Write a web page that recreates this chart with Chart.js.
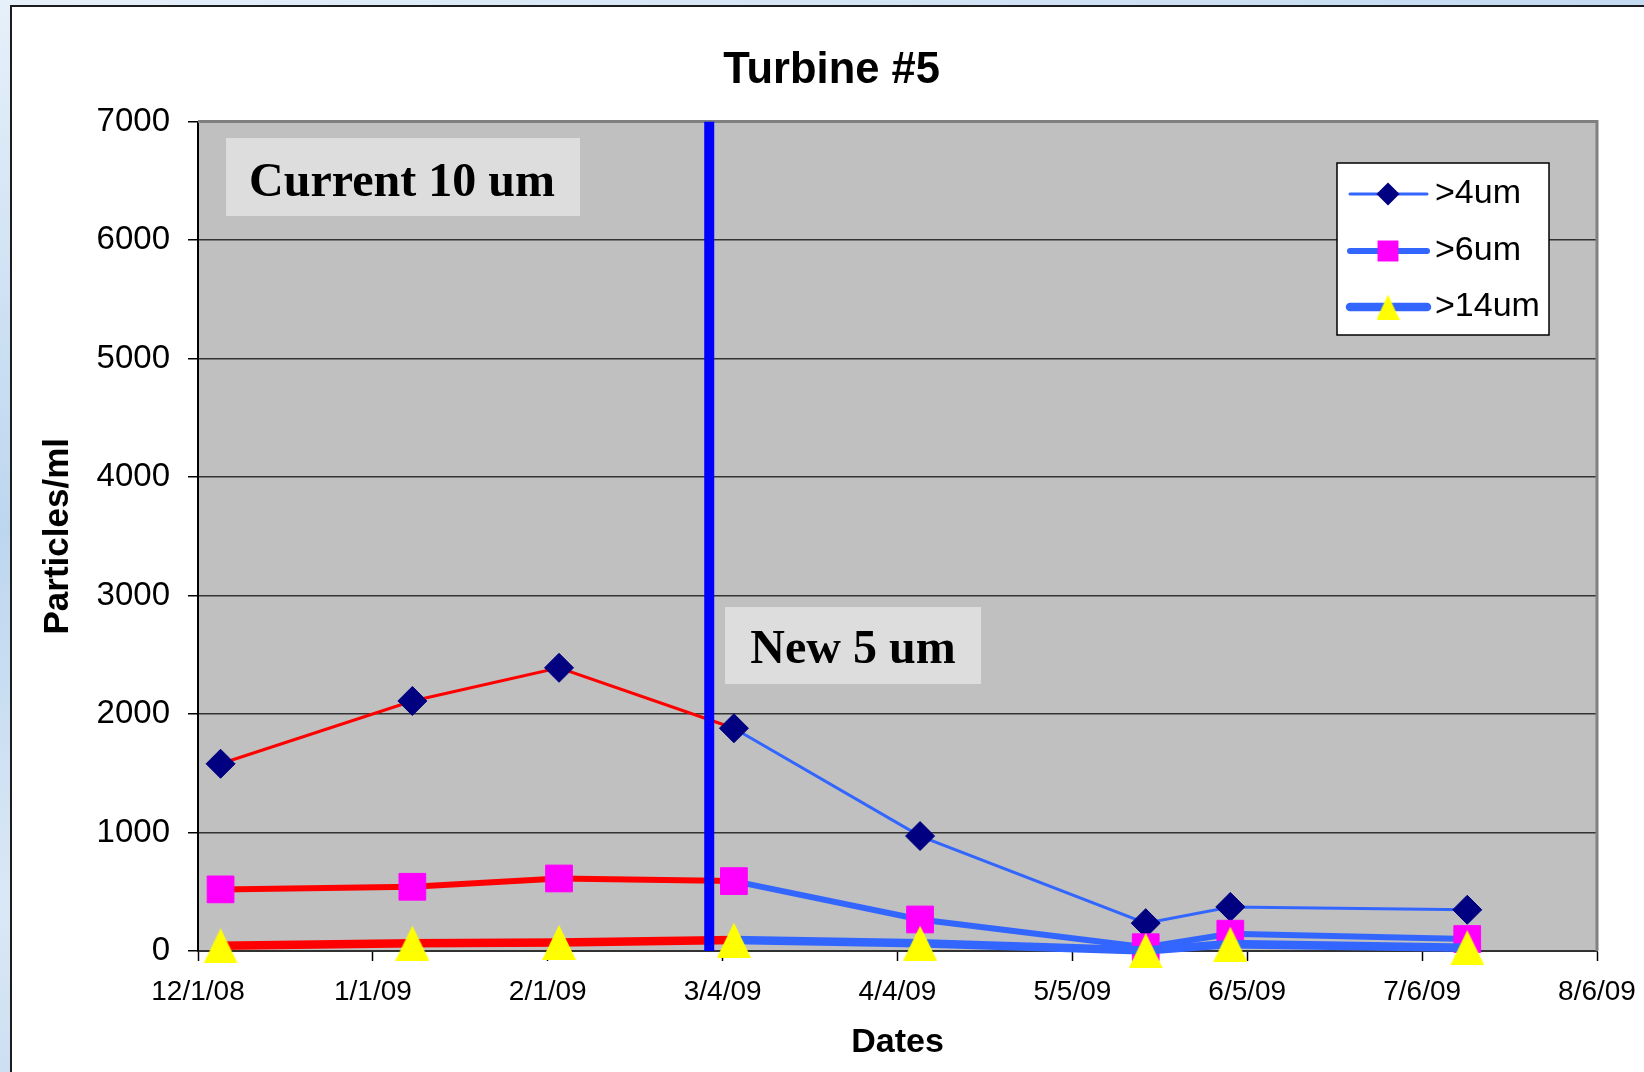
<!DOCTYPE html>
<html>
<head>
<meta charset="utf-8">
<title>Turbine #5</title>
<script src="https://cdn.jsdelivr.net/npm/chart.js@4.4.1/dist/chart.umd.min.js"></script>
<style>
  html, body { margin: 0; padding: 0; width: 1644px; height: 1072px; overflow: hidden; }
  body { position: relative; background: linear-gradient(165deg, #e6f0fa 0%, #bdd6ef 35%, #dae8f6 60%, #a8c6e6 100%); }
  #sheet { position: absolute; left: 10px; top: 5px; width: 1700px; height: 1100px; background: #ffffff;
           border-left: 2px solid #1c1c1c; border-top: 2px solid #1c1c1c; }
  #chart { position: absolute; left: 0; top: 0; }
</style>
</head>
<body>
<div id="sheet"></div>
<canvas id="chart" width="1644" height="1072"></canvas>
<script>
// Particle counts (particles per ml) measured on turbine #5
const sampleDates = ['2008-12-05', '2009-01-08', '2009-02-03', '2009-03-06', '2009-04-08', '2009-05-18', '2009-06-02', '2009-07-14'];
const over4um  = [1580, 2110, 2390, 1880, 970, 235, 372, 348];
const over6um  = [520, 542, 612, 590, 266, 32, 146, 101];
const over14um = [44, 66, 72, 92, 66, 4, 58, 28];
const seriesNames = ['>4um', '>6um', '>14um'];

// Date the 10 um filter was replaced by the 5 um one
const filterChangeDate = '2009-03-01T15:00:00Z';

// Date axis: starts 12/1/08, one tick every 31 days
const axisStartDate = '2008-12-01';
const tickStepDays = 31;
const xTickLabels = ['12/1/08', '1/1/09', '2/1/09', '3/4/09', '4/4/09', '5/5/09', '6/5/09', '7/6/09', '8/6/09'];
const yMin = 0, yMax = 7000, yStep = 1000;

const DAY = 86400000;
const dayOf = s => (Date.parse(s) - Date.parse(axisStartDate)) / DAY;
const sampleDays = sampleDates.map(dayOf);
const changeDay = dayOf(filterChangeDate);
const toPoints = vals => vals.map((v, i) => ({ x: sampleDays[i], y: v }));

const SANS = "'Liberation Sans', Arial, sans-serif";
const SERIF = "'Liberation Serif', 'Times New Roman', serif";
const RED = '#FF0000';
const BLUE = '#3366FF';

// segments that start before the filter change are drawn red
const segColor = ctx => (sampleDays[ctx.p0DataIndex] < changeDay ? RED : BLUE);

function triangleMarker(w, h, color) {
  const c = document.createElement('canvas');
  c.width = w; c.height = h;
  const g = c.getContext('2d');
  g.fillStyle = color;
  g.beginPath();
  g.moveTo(w / 2, 0);
  g.lineTo(w, h);
  g.lineTo(0, h);
  g.closePath();
  g.fill();
  return c;
}

const markers = [
  { style: 'rectRot', radius: 14.5, color: '#000080', legendRadius: 11.5 },
  { style: 'rect', radius: 18.9, color: '#FF00FF', legendRadius: 14.8 },
  { style: triangleMarker(34, 35, '#FFFF00'), radius: 18, color: '#FFFF00', legendStyle: triangleMarker(23, 25, '#FFFF00') }
];
const lineWidths = [3, 6, 8.5];

function seriesDataset(i, values, order) {
  const m = markers[i];
  return {
    label: seriesNames[i],
    data: toPoints(values),
    borderColor: BLUE,
    borderWidth: lineWidths[i],
    segment: { borderColor: segColor },
    pointStyle: m.style,
    pointRadius: m.radius,
    pointHoverRadius: m.radius,
    pointBackgroundColor: m.color,
    pointBorderColor: m.color,
    pointBorderWidth: 1,
    tension: 0,
    clip: false,
    order: order
  };
}

// grey plot background and the grey top/right frame of the plot
const plotFrame = {
  id: 'plotFrame',
  beforeDraw(chart) {
    const { ctx, chartArea: a } = chart;
    ctx.save();
    ctx.fillStyle = '#C0C0C0';
    ctx.fillRect(a.left, a.top, a.right - a.left, a.bottom - a.top);
    ctx.restore();
  },
  beforeDatasetsDraw(chart) {
    const { ctx, chartArea: a } = chart;
    ctx.save();
    ctx.strokeStyle = '#808080';
    ctx.lineWidth = 3;
    ctx.beginPath();
    ctx.moveTo(a.left, a.top);
    ctx.lineTo(a.right, a.top);
    ctx.lineTo(a.right, a.bottom);
    ctx.stroke();
    ctx.restore();
  }
};

// filter labels on the plot
const filterNotes = {
  id: 'filterNotes',
  afterDatasetsDraw(chart) {
    const { ctx } = chart;
    const notes = [
      { text: 'Current 10 um', box: [226, 138, 354, 78], cx: 402, base: 196 },
      { text: 'New 5 um', box: [725, 607, 256, 77], cx: 853, base: 663 }
    ];
    ctx.save();
    for (const n of notes) {
      ctx.fillStyle = '#DDDDDD';
      ctx.fillRect(n.box[0], n.box[1], n.box[2], n.box[3]);
      ctx.fillStyle = '#000';
      ctx.font = 'bold 48px ' + SERIF;
      ctx.textAlign = 'center';
      ctx.textBaseline = 'alphabetic';
      ctx.fillText(n.text, n.cx, n.base);
    }
    ctx.restore();
  }
};

// legend box in the upper right of the plot
const seriesLegend = {
  id: 'seriesLegend',
  afterDraw(chart) {
    const { ctx } = chart;
    const box = { x: 1337, y: 163, w: 212, h: 172 };
    const rows = [194, 251, 307];
    ctx.save();
    ctx.fillStyle = '#FFFFFF';
    ctx.fillRect(box.x, box.y, box.w, box.h);
    ctx.strokeStyle = '#000';
    ctx.lineWidth = 1.5;
    ctx.strokeRect(box.x, box.y, box.w, box.h);
    seriesNames.forEach((name, i) => {
      const y = rows[i];
      const m = markers[i];
      ctx.strokeStyle = BLUE;
      ctx.lineWidth = lineWidths[i];
      ctx.lineCap = 'round';
      ctx.beginPath();
      ctx.moveTo(1350, y);
      ctx.lineTo(1427, y);
      ctx.stroke();
      const mx = 1388;
      ctx.fillStyle = m.color;
      if (m.style === 'rectRot') {
        const r = m.legendRadius;
        ctx.beginPath();
        ctx.moveTo(mx - r, y); ctx.lineTo(mx, y - r); ctx.lineTo(mx + r, y); ctx.lineTo(mx, y + r);
        ctx.closePath();
        ctx.fill();
      } else if (m.style === 'rect') {
        const s = m.legendRadius * Math.SQRT1_2;
        ctx.fillRect(mx - s, y - s, 2 * s, 2 * s);
      } else {
        const img = m.legendStyle;
        ctx.drawImage(img, mx - img.width / 2, y - img.height / 2);
      }
      ctx.fillStyle = '#000';
      ctx.font = '34px ' + SANS;
      ctx.textAlign = 'left';
      ctx.textBaseline = 'middle';
      ctx.fillText(name, 1435, y);
    });
    ctx.restore();
  }
};

Chart.defaults.font.family = SANS;
Chart.defaults.color = '#000';

new Chart(document.getElementById('chart'), {
  type: 'line',
  data: {
    datasets: [
      {
        label: 'filter change',
        data: [{ x: changeDay, y: yMin }, { x: changeDay, y: yMax }],
        borderColor: '#0000FF',
        borderWidth: 10,
        borderCapStyle: 'butt',
        pointRadius: 0,
        pointHoverRadius: 0,
        order: 0
      },
      seriesDataset(2, over14um, 1),
      seriesDataset(1, over6um, 2),
      seriesDataset(0, over4um, 3)
    ]
  },
  options: {
    responsive: false,
    devicePixelRatio: 1,
    animation: false,
    events: [],
    layout: { padding: { left: 66, right: 47, top: 0, bottom: 0 } },
    plugins: {
      legend: { display: false },
      tooltip: { enabled: false },
      title: {
        display: true,
        text: 'Turbine #5',
        color: '#000',
        font: { family: SANS, size: 43.5, weight: 'bold', lineHeight: 1.2 },
        padding: { top: 45, bottom: 24.3 }
      }
    },
    scales: {
      x: {
        type: 'linear',
        min: 0,
        max: (xTickLabels.length - 1) * tickStepDays,
        afterBuildTicks: s => { s.ticks = xTickLabels.map((_, i) => ({ value: i * tickStepDays })); },
        afterFit: s => { s.height = 121; },
        ticks: {
          callback: (v, i) => xTickLabels[i],
          font: { size: 28, lineHeight: 1.7 },
          color: '#000',
          padding: 7,
          maxRotation: 0,
          autoSkip: false
        },
        grid: { drawOnChartArea: false, drawTicks: true, tickLength: 10, tickColor: '#000', tickWidth: 1.5 },
        border: { display: true, color: '#303030', width: 2, z: -1 },
        title: {
          display: true,
          text: 'Dates',
          color: '#000',
          font: { size: 34, weight: 'bold', lineHeight: 1.2 },
          padding: { top: 0, bottom: 8.5 }
        }
      },
      y: {
        min: yMin,
        max: yMax,
        afterFit: s => { s.width = 132; },
        ticks: { stepSize: yStep, font: { size: 33 }, color: '#000', padding: 18, callback: v => String(v) },
        grid: { color: '#333333', lineWidth: 1.5, tickLength: 10, tickColor: '#000' },
        border: { display: true, color: '#000', width: 2, z: -1 },
        title: {
          display: true,
          text: 'Particles/ml',
          color: '#000',
          font: { size: 35, weight: 'bold', lineHeight: 1.2 },
          padding: { top: -29, bottom: 0 }
        }
      }
    }
  },
  plugins: [plotFrame, filterNotes, seriesLegend]
});
</script>
</body>
</html>
